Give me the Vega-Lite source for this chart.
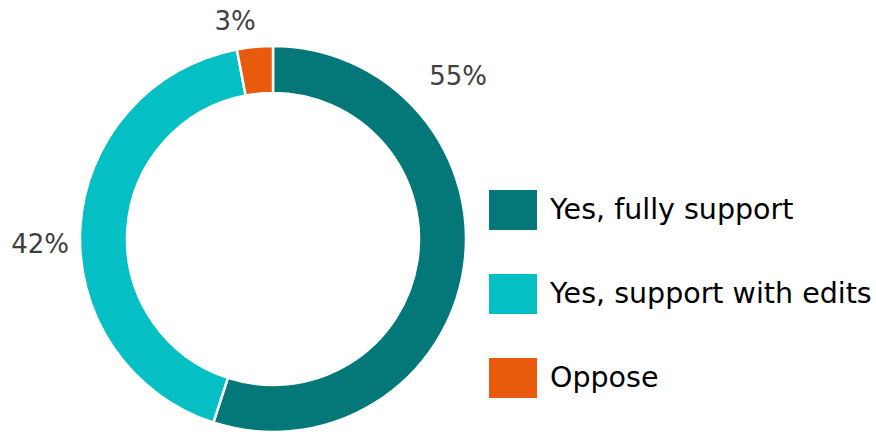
{
  "$schema": "https://vega.github.io/schema/vega-lite/v6.json",
  "autosize": {"type": "none"},
  "width": 546,
  "height": 386,
  "padding": {"left": 0, "top": 46, "right": 330, "bottom": 0},
  "background": "white",
  "config": {"view": {"stroke": null}},
  "data": {
    "values": [
      {"category": "Yes, fully support", "value": 55, "label": "55%", "rank": 1},
      {"category": "Yes, support with edits", "value": 42, "label": "42%", "rank": 2},
      {"category": "Oppose", "value": 3, "label": "3%", "rank": 3}
    ]
  },
  "layer": [
    {
      "mark": {"type": "arc", "outerRadius": 193, "innerRadius": 146, "stroke": "white", "strokeWidth": 2.5},
      "encoding": {
        "theta": {"field": "value", "type": "quantitative", "stack": true},
        "order": {"field": "rank", "type": "quantitative", "sort": "ascending"},
        "color": {
          "field": "category",
          "type": "nominal",
          "sort": ["Yes, fully support", "Yes, support with edits", "Oppose"],
          "scale": {
            "domain": ["Yes, fully support", "Yes, support with edits", "Oppose"],
            "range": ["#047878", "#04BFC4", "#E85B0F"]
          },
          "legend": {
            "title": null,
            "orient": "none",
            "legendX": 493,
            "legendY": 144,
            "padding": 0,
            "symbolType": "M-1.2,-1H1.2V1H-1.2Z",
            "symbolSize": 1600,
            "symbolStrokeWidth": 0,
            "symbolOpacity": 1,
            "labelFont": "DejaVu Sans",
            "labelFontSize": 28.5,
            "labelColor": "#000000",
            "labelOffset": 17,
            "rowPadding": 44,
            "labelLimit": 400
          }
        }
      }
    },
    {
      "transform": [{"filter": "datum.category === 'Yes, fully support'"}],
      "mark": {"type": "text", "theta": 0.852, "radius": 246, "font": "DejaVu Sans", "fontSize": 26, "color": "#404040"},
      "encoding": {"text": {"field": "label", "type": "nominal"}}
    },
    {
      "transform": [{"filter": "datum.category === 'Yes, support with edits'"}],
      "mark": {"type": "text", "theta": 4.686, "radius": 233, "font": "DejaVu Sans", "fontSize": 26, "color": "#404040"},
      "encoding": {"text": {"field": "label", "type": "nominal"}}
    },
    {
      "transform": [{"filter": "datum.category === 'Oppose'"}],
      "mark": {"type": "text", "theta": 6.110, "radius": 220, "font": "DejaVu Sans", "fontSize": 26, "color": "#404040"},
      "encoding": {"text": {"field": "label", "type": "nominal"}}
    }
  ]
}
